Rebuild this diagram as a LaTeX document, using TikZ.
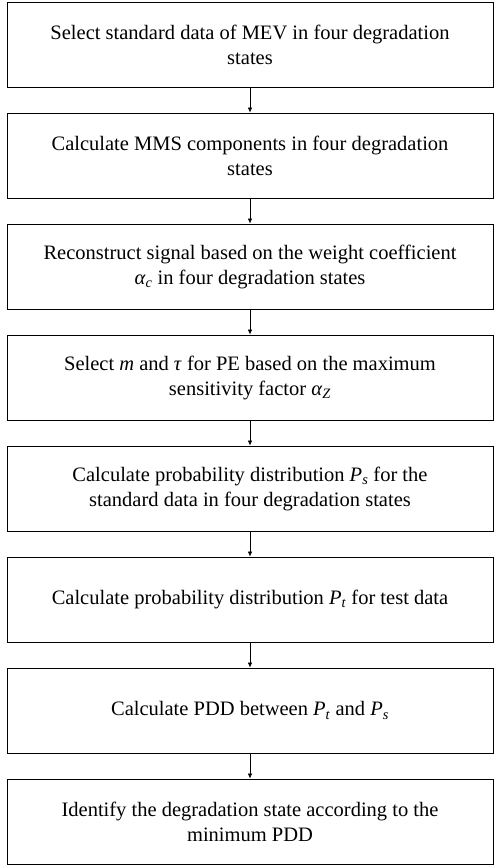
\documentclass[tikz,border=0pt]{standalone}
\usepackage{fontspec}
\setmainfont{Liberation Serif}
\usetikzlibrary{positioning,arrows.meta}

\tikzset{
    stepbox/.style={draw,line width=0.8pt,minimum width=486pt,minimum height=85pt,
        inner sep=0pt,align=center,font=\fontsize{20.5}{25}\selectfont},
    flow/.style={-{Latex[length=5pt,width=4.5pt]},line width=0.7pt}
}
\newcommand{\sym}[2]{\textit{#1}\textsubscript{\textit{#2}}}

\begin{document}
\begin{tikzpicture}[x=1pt,y=1pt,node distance=25.2pt]
    \useasboundingbox (0,0) rectangle (494,-865);

    \node[stepbox] (sel) at (250,-44.5)
        {Select standard data of MEV in four degradation\\states};
    \node[stepbox,below=of sel] (mms)
        {Calculate MMS components in four degradation\\states};
    \node[stepbox,below=of mms] (rec)
        {Reconstruct signal based on the weight coefficient\\\sym{α}{c} in four degradation states};
    \node[stepbox,below=of rec] (pe)
        {Select \textit{m} and \textit{τ} for PE based on the maximum\\sensitivity factor \sym{α}{Z}};
    \node[stepbox,below=of pe] (ps)
        {Calculate probability distribution \sym{P}{s} for the\\standard data in four degradation states};
    \node[stepbox,below=of ps] (pt)
        {Calculate probability distribution \sym{P}{t} for test data};
    \node[stepbox,below=of pt] (pdd)
        {Calculate PDD between \sym{P}{t} and \sym{P}{s}};
    \node[stepbox,below=of pdd] (idf)
        {Identify the degradation state according to the\\minimum PDD};

    % arrows between the steps
    \foreach \a/\b in {sel/mms,mms/rec,rec/pe,pe/ps,ps/pt,pt/pdd,pdd/idf}
        \draw[flow] (\a) -- (\b);
\end{tikzpicture}
\end{document}
